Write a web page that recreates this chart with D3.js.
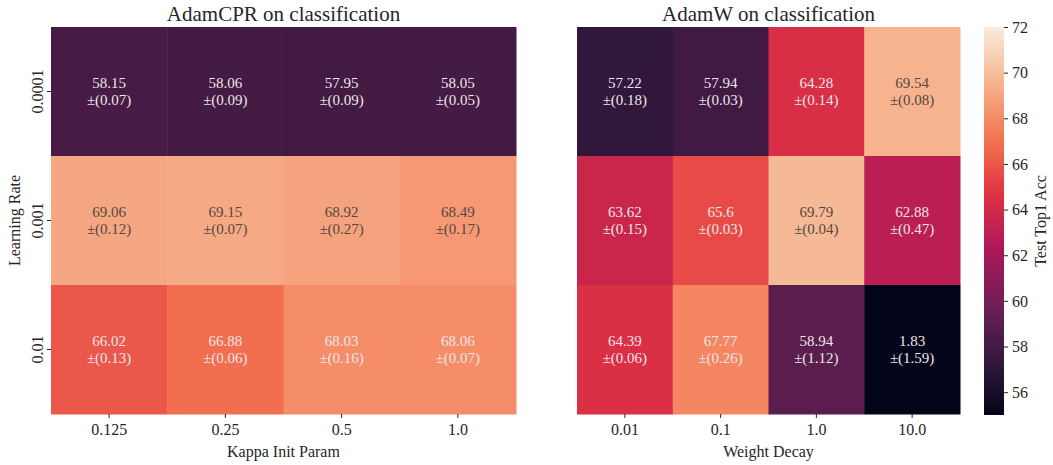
<!DOCTYPE html>
<html>
<head>
<meta charset="utf-8">
<script src="https://cdn.jsdelivr.net/npm/d3@7"></script>
<style>
  html, body { margin: 0; padding: 0; background: #fff; }
  svg text { font-family: "Liberation Serif", "Times New Roman", serif; }
</style>
</head>
<body>
<svg id="chart" width="1053" height="465"></svg>
<script>
// Learning rates (rows) shared by both panels
const learningRates = ["0.0001", "0.001", "0.01"];

// AdamCPR panel
const kappaParams = ["0.125", "0.25", "0.5", "1.0"];
const cprMean = [
  [58.15, 58.06, 57.95, 58.05],
  [69.06, 69.15, 68.92, 68.49],
  [66.02, 66.88, 68.03, 68.06]
];
const cprStd = [
  [0.07, 0.09, 0.09, 0.05],
  [0.12, 0.07, 0.27, 0.17],
  [0.13, 0.06, 0.16, 0.07]
];

// AdamW panel
const weightDecays = ["0.01", "0.1", "1.0", "10.0"];
const adamwMean = [
  [57.22, 57.94, 64.28, 69.54],
  [63.62, 65.6, 69.79, 62.88],
  [64.39, 67.77, 58.94, 1.83]
];
const adamwStd = [
  [0.18, 0.03, 0.14, 0.08],
  [0.15, 0.03, 0.04, 0.47],
  [0.06, 0.26, 1.12, 1.59]
];

const colorTicks = [56, 58, 60, 62, 64, 66, 68, 70, 72];
const colorDomain = [55, 72];

// "rocket"-style sequential palette
const rocketStops = ["#03051a", "#35193e", "#701f57", "#ad1759", "#e13342", "#f37651", "#f6b48f", "#faebdd"];
const rocket = d3.scaleLinear()
  .domain(d3.range(rocketStops.length).map(i => i / (rocketStops.length - 1)))
  .range(rocketStops)
  .interpolate(d3.interpolateRgb)
  .clamp(true);
const valueToT = d3.scaleLinear().domain(colorDomain).range([0, 1]).clamp(true);
const color = v => rocket(valueToT(v));

function luminance(c) {
  const rgb = d3.rgb(c);
  const lin = x => { x /= 255; return x <= 0.03928 ? x / 12.92 : Math.pow((x + 0.055) / 1.055, 2.4); };
  return 0.2126 * lin(rgb.r) + 0.7152 * lin(rgb.g) + 0.0722 * lin(rgb.b);
}
const isLight = v => luminance(color(v)) > 0.408;

const svg = d3.select("#chart");
const plotTop = 27, plotBottom = 414;

function heatmap(opts) {
  const { x0, x1, cols, mean, std, title, xLabel, showY } = opts;
  const x = d3.scaleBand().domain(cols).range([x0, x1]).padding(0);
  const y = d3.scaleBand().domain(learningRates).range([plotTop, plotBottom]).padding(0);
  const g = svg.append("g");

  const cells = [];
  mean.forEach((row, i) => row.forEach((v, j) => cells.push({ r: learningRates[i], c: cols[j], v, s: std[i][j] })));

  g.selectAll("rect.cell").data(cells).join("rect")
    .attr("class", "cell")
    .attr("x", d => x(d.c))
    .attr("y", d => y(d.r))
    .attr("width", x.bandwidth() + 0.5)
    .attr("height", y.bandwidth() + 0.5)
    .attr("fill", d => color(d.v));

  const labels = g.selectAll("text.annot").data(cells).join("text")
    .attr("class", "annot")
    .attr("text-anchor", "middle")
    .attr("font-size", 15)
    .style("fill", d => isLight(d.v) ? "rgb(84,72,66)" : "rgb(236,230,232)");
  labels.append("tspan")
    .attr("x", d => x(d.c) + x.bandwidth() / 2)
    .attr("y", d => y(d.r) + y.bandwidth() / 2 - 4)
    .text(d => String(d.v));
  labels.append("tspan")
    .attr("x", d => x(d.c) + x.bandwidth() / 2)
    .attr("y", d => y(d.r) + y.bandwidth() / 2 + 13)
    .text(d => "\u00b1(" + String(d.s) + ")");

  // x axis
  const xa = g.append("g").attr("transform", `translate(0,${plotBottom})`)
    .call(d3.axisBottom(x).tickSize(4).tickPadding(6));
  xa.select(".domain").remove();
  xa.selectAll("text").attr("font-size", 16).attr("fill", "#262626");
  xa.selectAll("line").attr("stroke", "#262626");

  g.append("text")
    .attr("x", (x0 + x1) / 2).attr("y", 457)
    .attr("text-anchor", "middle").attr("font-size", 16).attr("fill", "#262626")
    .text(xLabel);

  g.append("text")
    .attr("x", (x0 + x1) / 2).attr("y", 21)
    .attr("text-anchor", "middle").attr("font-size", 21).attr("fill", "#262626")
    .text(title);

  if (showY) {
    const ya = g.append("g").attr("transform", `translate(${x0},0)`)
      .call(d3.axisLeft(y).tickSize(4).tickPadding(0));
    ya.select(".domain").remove();
    ya.selectAll("line").attr("stroke", "#262626");
    ya.selectAll("text")
      .attr("font-size", 16).attr("fill", "#262626")
      .attr("text-anchor", "middle")
      .attr("x", 0).attr("dy", null)
      .attr("transform", "translate(-14,0) rotate(-90)")
      .attr("dominant-baseline", "central");
    g.append("text")
      .attr("transform", `translate(20,${(plotTop + plotBottom) / 2}) rotate(-90)`)
      .attr("text-anchor", "middle").attr("font-size", 16).attr("fill", "#262626")
      .text("Learning Rate");
  }
}

heatmap({ x0: 51, x1: 516, cols: kappaParams, mean: cprMean, std: cprStd,
  title: "AdamCPR on classification", xLabel: "Kappa Init Param", showY: true });
heatmap({ x0: 577, x1: 960, cols: weightDecays, mean: adamwMean, std: adamwStd,
  title: "AdamW on classification", xLabel: "Weight Decay", showY: false });

// colour bar
const cbX = 984, cbW = 20;
const cbScale = d3.scaleLinear().domain(colorDomain).range([415, 27]);
const defs = svg.append("defs");
const grad = defs.append("linearGradient").attr("id", "cbGrad")
  .attr("x1", 0).attr("y1", 1).attr("x2", 0).attr("y2", 0);
d3.range(0, 1.0001, 0.02).forEach(t => {
  grad.append("stop").attr("offset", t).attr("stop-color", rocket(t));
});
svg.append("rect").attr("x", cbX).attr("y", 27).attr("width", cbW).attr("height", 388)
  .attr("fill", "url(#cbGrad)");
const cba = svg.append("g").attr("transform", `translate(${cbX + cbW},0)`)
  .call(d3.axisRight(cbScale).tickValues(colorTicks).tickSize(4).tickPadding(4));
cba.select(".domain").remove();
cba.selectAll("text").attr("font-size", 16).attr("fill", "#262626");
cba.selectAll("line").attr("stroke", "#262626");
svg.append("text")
  .attr("transform", `translate(1046,221) rotate(-90)`)
  .attr("text-anchor", "middle").attr("font-size", 16).attr("fill", "#262626")
  .text("Test Top1 Acc");
</script>
</body>
</html>
